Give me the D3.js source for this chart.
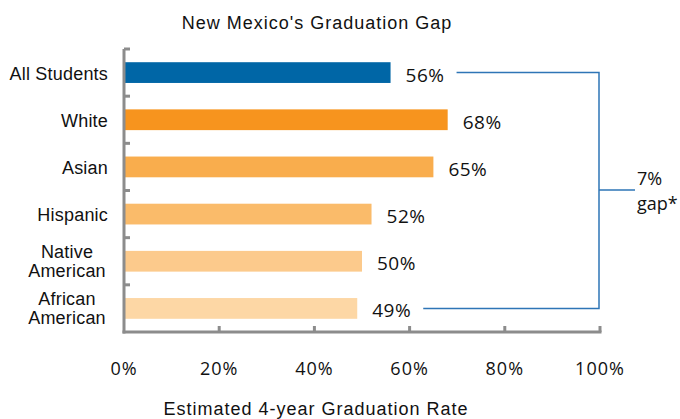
<!DOCTYPE html>
<html lang="en">
<head>
    <meta charset="UTF-8">
    <title>New Mexico's Graduation Gap</title>
    <style>
        body { margin: 0; background: #fff; }
        svg { display: block; }
        .cat { font: 18px "Liberation Sans", Arial, sans-serif; fill: #111; letter-spacing: 0.2px; }
        .val { font: 19px "Open Sans", sans-serif; fill: #111; letter-spacing: 0.5px; }
        .gap { font: 18px "Open Sans", sans-serif; fill: #111; }
        .tick-lab { font: 18px "Open Sans", sans-serif; fill: #111; letter-spacing: 1px; }
        .ttl { font: 18px "Liberation Sans", Arial, sans-serif; fill: #111; letter-spacing: 1px; }
    </style>
</head>
<body>
    <svg width="680" height="419"></svg>
    <script src="https://d3js.org/d3.v7.min.js"></script>
    <script>
        const categories = ["All Students", "White", "Asian", "Hispanic", "Native American", "African American"];
        const values = [56, 68, 65, 52, 50, 49];
        const barColors = ["#0066a6", "#f7941e", "#f9ad4d", "#fabb6a", "#fcca8c", "#fdd7a5"];
        const ticks = [0, 20, 40, 60, 80, 100];
        const gapLabel = ["7%", "gap*"];

        const svg = d3.select("svg");
        const plotLeft = 124, plotRight = 600, plotTop = 49, plotBottom = 332;

        const x = d3.scaleLinear().domain([0, 100]).range([plotLeft, plotRight]);
        const y = d3.scaleBand().domain(categories).range([plotTop, plotBottom]).paddingInner(0.56).paddingOuter(0.28);

        // title
        svg.append("text").attr("class", "ttl")
            .attr("x", 317).attr("y", 29)
            .attr("text-anchor", "middle")
            .text("New Mexico's Graduation Gap");

        // bars
        svg.selectAll(".bar")
            .data(values)
            .enter().append("rect")
            .attr("x", x(0))
            .attr("y", (d, i) => y(categories[i]))
            .attr("width", d => x(d) - x(0))
            .attr("height", y.bandwidth())
            .attr("fill", (d, i) => barColors[i]);

        // value labels
        svg.selectAll(".val")
            .data(values)
            .enter().append("text")
            .attr("class", "val")
            .attr("x", d => x(d) + 15)
            .attr("y", (d, i) => y(categories[i]) + y.bandwidth() / 2 + 9)
            .text(d => d + "%");

        // category labels (two-word groups wrap onto two centred lines)
        const catLines = c => (c.startsWith("Native") || c.startsWith("African")) ? c.split(" ") : [c];
        categories.forEach(c => {
            const lines = catLines(c);
            const cy = y(c) + y.bandwidth() / 2;
            const t = svg.append("text").attr("class", "cat");
            if (lines.length > 1) {
                t.attr("text-anchor", "middle");
                lines.forEach((l, k) => {
                    t.append("tspan").attr("x", 67).attr("y", cy - 3.5 + k * 19).text(l);
                });
            } else {
                t.attr("text-anchor", "end").attr("x", 108).attr("y", cy + 7).text(c);
            }
        });

        // axes
        const axisColor = "#8c8c8c";
        const bands = d3.range(categories.length + 1).map(i => plotTop + i * (plotBottom - plotTop) / categories.length);
        svg.append("line").attr("x1", plotLeft).attr("x2", plotLeft).attr("y1", plotTop).attr("y2", plotBottom + 1.5)
            .attr("stroke", axisColor).attr("stroke-width", 3);
        svg.selectAll(".ytick").data(bands.slice(0, -1)).enter().append("line")
            .attr("x1", plotLeft).attr("x2", plotLeft + 6).attr("y1", d => d).attr("y2", d => d)
            .attr("stroke", axisColor).attr("stroke-width", 3);
        svg.append("line").attr("x1", plotLeft - 1.5).attr("x2", plotRight + 1.5).attr("y1", plotBottom).attr("y2", plotBottom)
            .attr("stroke", axisColor).attr("stroke-width", 3);
        svg.selectAll(".xtick").data(ticks.slice(1)).enter().append("line")
            .attr("x1", d => x(d)).attr("x2", d => x(d)).attr("y1", plotBottom).attr("y2", plotBottom - 6)
            .attr("stroke", axisColor).attr("stroke-width", 3);
        svg.selectAll(".tick-lab").data(ticks).enter().append("text")
            .attr("class", "tick-lab")
            .attr("x", d => x(d)).attr("y", 375)
            .attr("text-anchor", "middle")
            .text(d => d + "%");

        svg.append("text").attr("class", "ttl")
            .attr("x", 316).attr("y", 415)
            .attr("text-anchor", "middle")
            .text("Estimated 4-year Graduation Rate");

        // gap bracket
        const yTop = y(categories[0]) + y.bandwidth() / 2;
        const yBot = y(categories[categories.length - 1]) + y.bandwidth() / 2;
        const bx = x(100) - 1;
        const bracket = d3.path();
        bracket.moveTo(x(values[0]) + 66, yTop);
        bracket.lineTo(bx, yTop);
        bracket.lineTo(bx, yBot);
        bracket.lineTo(x(values[5]) + 66, yBot);
        bracket.moveTo(bx, 190);
        bracket.lineTo(bx + 36, 190);
        svg.append("path").attr("d", bracket.toString())
            .attr("fill", "none").attr("stroke", "#2e75b6").attr("stroke-width", 1.5);

        svg.append("text").attr("class", "gap")
            .selectAll("tspan").data(gapLabel).enter().append("tspan")
            .attr("x", 637).attr("y", (d, i) => 185 + i * 25)
            .text(d => d);
    </script>
</body>
</html>
